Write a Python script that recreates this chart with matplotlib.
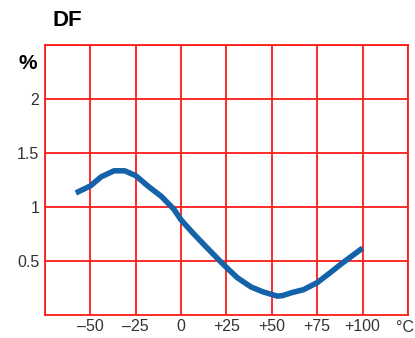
import matplotlib.pyplot as plt

# dissipation factor vs temperature
temps = [-58, -50, -44, -37, -31, -25, -18, -11, -4, 0, 7, 15, 22, 25, 31, 38.5,
         45, 50, 53, 56, 60.5, 67.5, 75, 82, 88, 94, 100]
df = [1.13, 1.195, 1.28, 1.335, 1.335, 1.29, 1.19, 1.10, 0.98, 0.88, 0.75, 0.61,
      0.49, 0.44, 0.345, 0.26, 0.215, 0.19, 0.175, 0.18, 0.205, 0.235, 0.30,
      0.39, 0.47, 0.545, 0.62]

xticks = [-50, -25, 0, 25, 50, 75, 100]
xlabels = ["\u201350", "\u201325", "0", "+25", "+50", "+75", "+100"]
yticks = [0.5, 1, 1.5, 2]
ylabels = ["0.5", "1", "1.5", "2"]

plt.rcParams["font.family"] = ["Liberation Sans", "DejaVu Sans"]

fig = plt.figure(figsize=(4.15, 3.38), dpi=100)
ax = fig.add_axes([0.1084, 0.068, 0.8747, 0.7989])

ax.set_xlim(-75, 125)
ax.set_ylim(0, 2.5)
ax.set_xticks([-75] + xticks + [125])
ax.set_xticklabels([""] + xlabels + [""])
ax.set_yticks(yticks + [2.5])
ax.set_yticklabels(ylabels + [""])
ax.grid(True, color="#ff1a1a", linewidth=1.3)
ax.tick_params(length=0, labelsize=11.5, colors="#333333", pad=4)
ax.tick_params(axis="x", pad=3)
for s in ax.spines.values():
    s.set_color("#ff1a1a")
    s.set_linewidth(1.3)

ax.plot(temps, df, color="#1462a8", linewidth=4, solid_capstyle="butt",
        solid_joinstyle="round", zorder=3)

fig.text(0.998, 0.03, "\u00b0C", fontsize=11.5, color="#333333", ha="right", va="center")
fig.text(0.127, 0.94, "DF", fontsize=16, fontweight="bold", ha="left", va="center")
fig.text(0.09, 0.812, "%", fontsize=15, fontweight="bold", ha="right", va="center")

fig.savefig("out.png", dpi=100)
